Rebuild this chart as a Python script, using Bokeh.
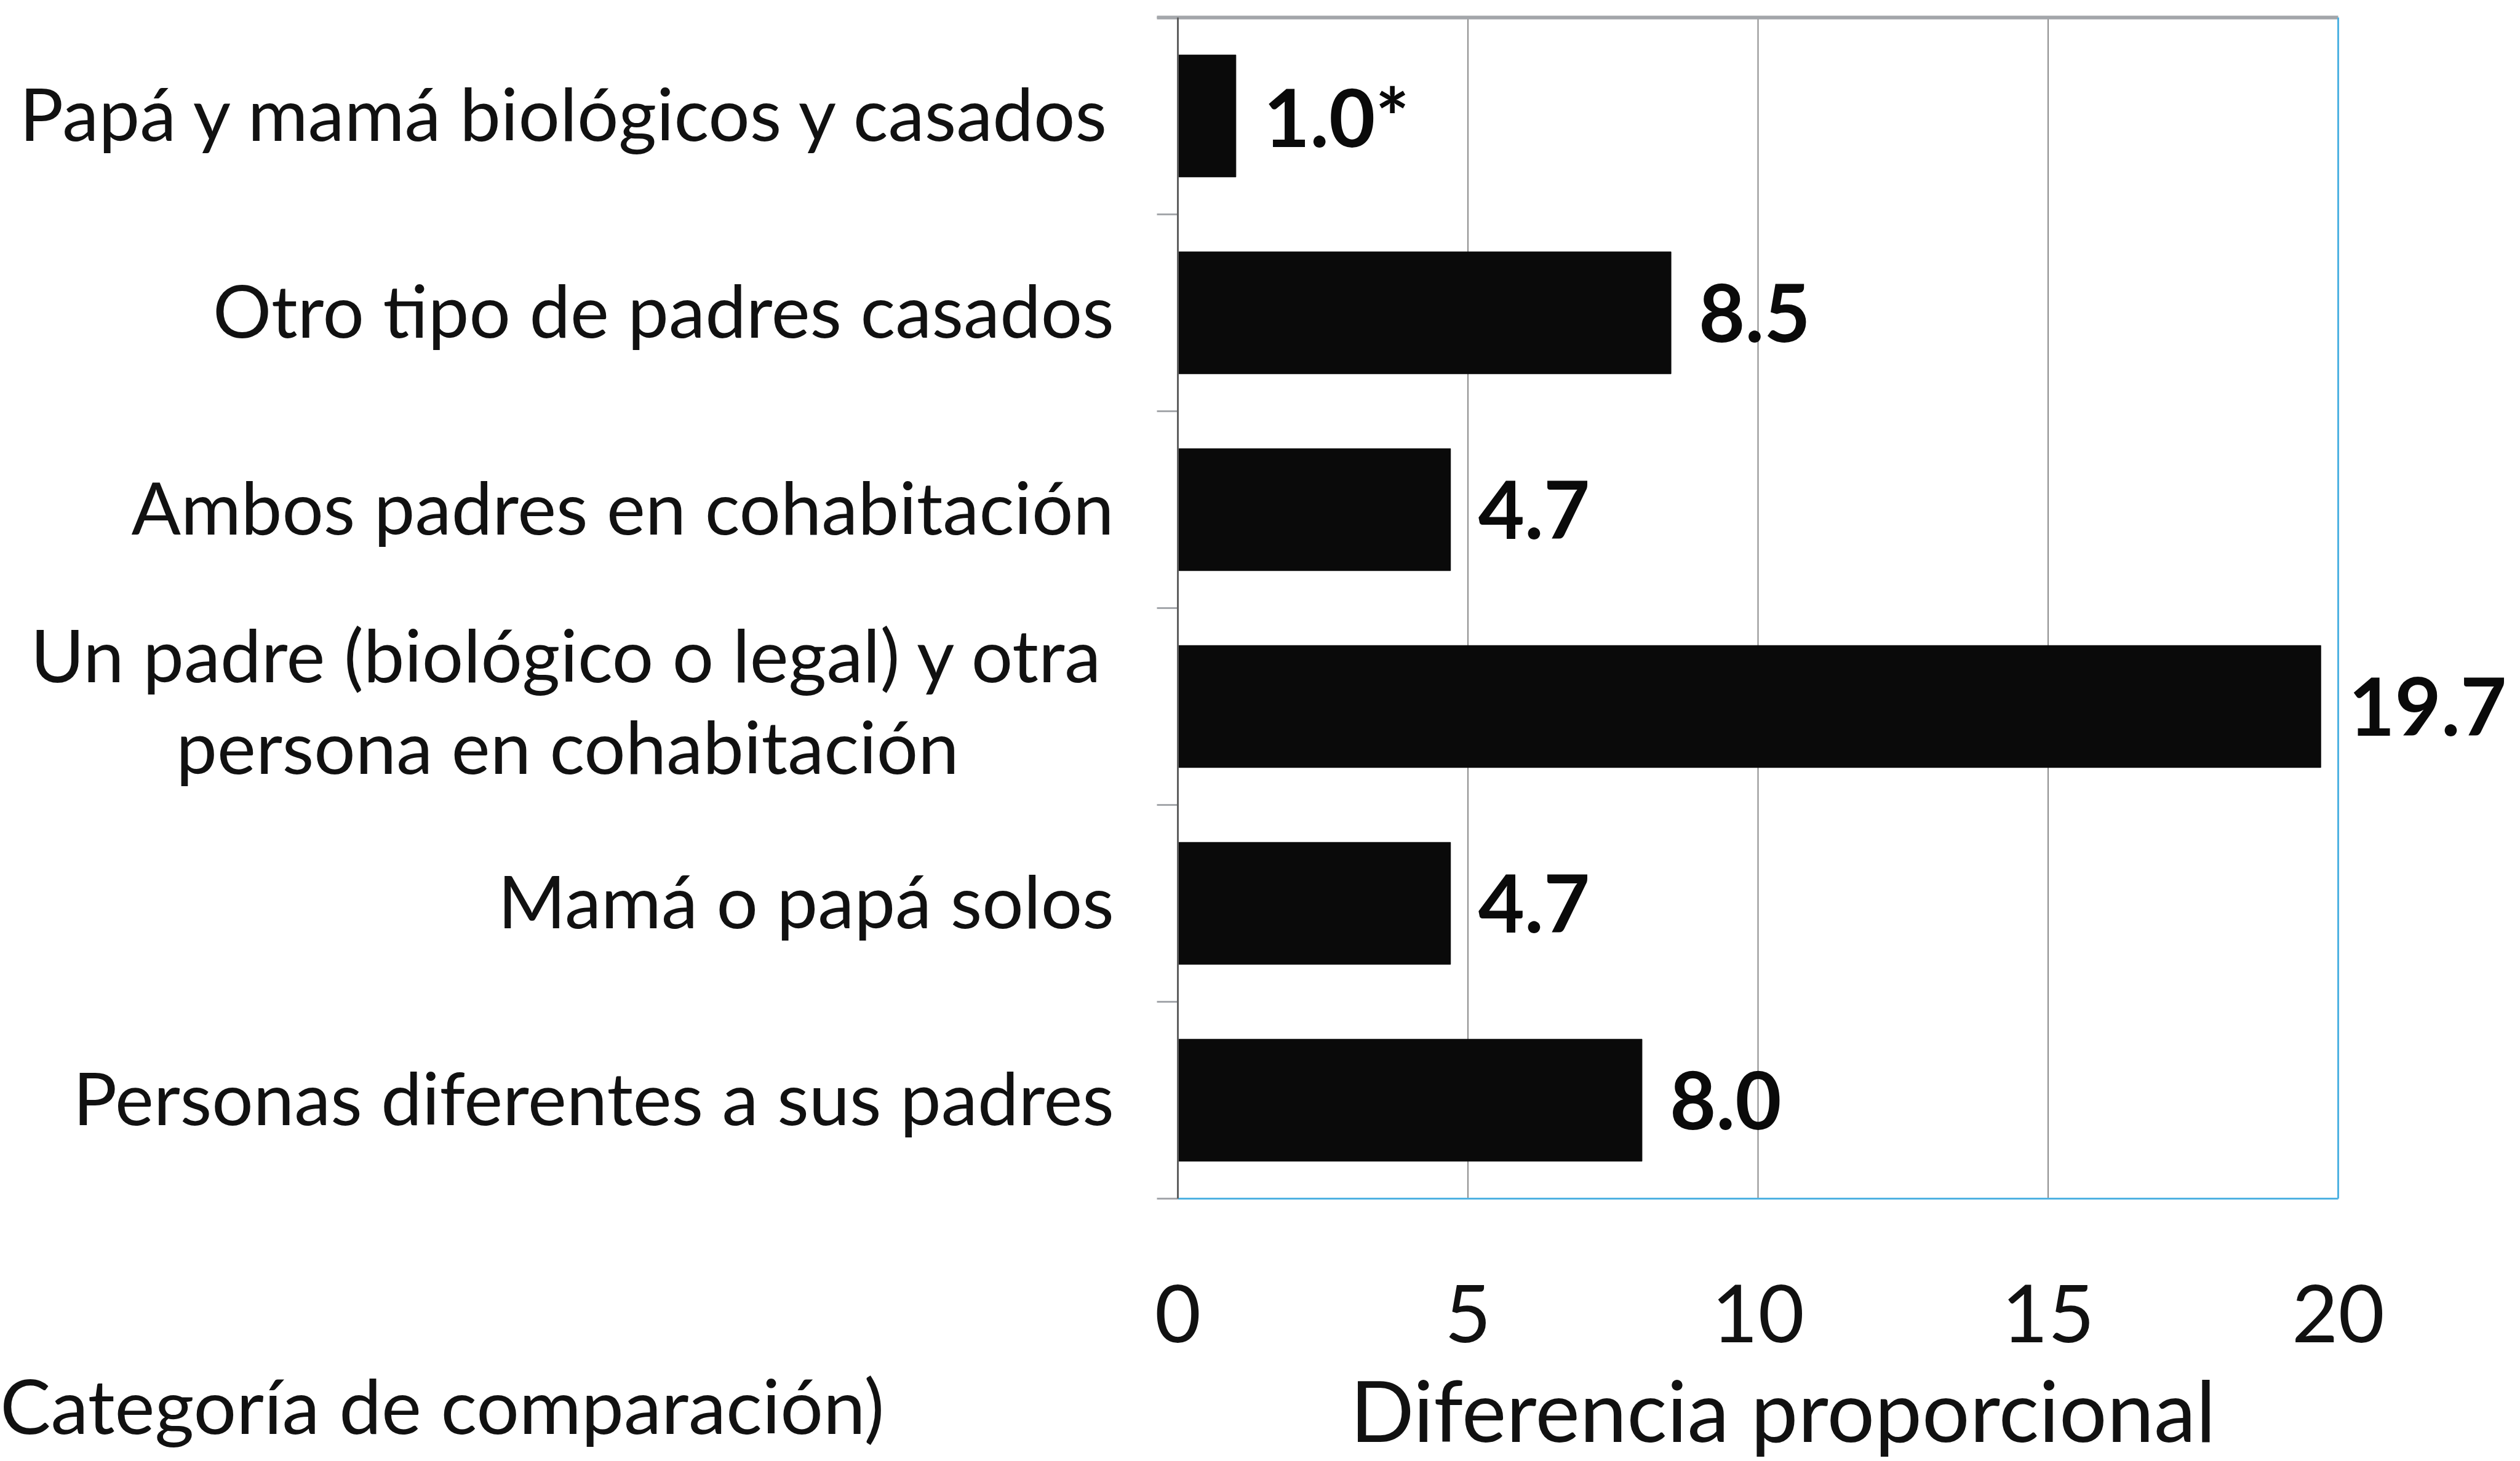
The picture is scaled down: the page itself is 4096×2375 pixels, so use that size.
from bokeh.plotting import figure
from bokeh.models import Range1d, ColumnDataSource
from bokeh.core.properties import value
from bokeh.embed import file_html
from bokeh.resources import INLINE

# ---- data ----
categories = [
    "Papá y mamá biológicos y casados",
    "Otro tipo de padres casados",
    "Ambos padres en cohabitación",
    "Un padre (biológico o legal) y otra\npersona en cohabitación",
    "Mamá o papá solos",
    "Personas diferentes a sus padres",
]
values = [1.0, 8.5, 4.7, 19.7, 4.7, 8.0]
value_labels = ["1.0*", "8.5", "4.7", "19.7", "4.7", "8.0"]
x_ticks = [0, 5, 10, 15, 20]
x_title = "Diferencia proporcional"
left_note = "Categoría de comparación)"

# ---- layout constants (the plotting frame covers the whole canvas) ----
FONT = "Lato"
W, H = 4096, 2375
X0, PX = 1914, 94.3        # pixel of x = 0, px per x unit
Y0, PY = 1948, 320.0       # pixel of y = 0, px per y unit
n = len(categories)
centers = [n - 0.5 - i for i in range(n)]
boundaries = list(range(n + 1))
TICK = 34 / PX
TEXT = "#111111"

p = figure(width=W, height=H, output_backend="svg", toolbar_location=None,
           x_range=Range1d(-X0 / PX, (W - X0) / PX),
           y_range=Range1d(-(H - Y0) / PY, Y0 / PY),
           x_axis_location=None, y_axis_location=None,
           min_border_left=0, min_border_right=0, min_border_top=0, min_border_bottom=0)
p.background_fill_color = "white"
p.border_fill_color = "white"
p.outline_line_color = None
p.grid.grid_line_color = None

# vertical grid lines inside the plot area
grid_x = x_ticks[1:-1]
p.segment(x0=grid_x, y0=[0] * len(grid_x), x1=grid_x, y1=[n] * len(grid_x),
          line_color="#8c8c8c", line_width=2)

# bars
p.hbar(y=centers, right=values, left=0, height=0.62,
       fill_color="#0a0a0a", line_color="#0a0a0a")

# plot-area borders (top grey, right and bottom blue), y-axis line, boundary ticks
p.segment(x0=[-TICK], y0=[n], x1=[x_ticks[-1]], y1=[n], line_color="#a3a6aa", line_width=6)
p.segment(x0=[x_ticks[-1]], y0=[0], x1=[x_ticks[-1]], y1=[n], line_color="#4fb2e2", line_width=3)
p.segment(x0=[0], y0=[0], x1=[x_ticks[-1]], y1=[0], line_color="#4fb2e2", line_width=3)
p.segment(x0=[-TICK] * len(boundaries), y0=boundaries, x1=[0] * len(boundaries), y1=boundaries,
          line_color="#a4a7ab", line_width=3)
p.segment(x0=[0], y0=[0], x1=[0], y1=[n], line_color="#5e5e5e", line_width=3)

# category labels to the left of the axis
lab_x, lab_y, lab_t, lab_al = [], [], [], []
for c, name in zip(centers, categories):
    lines = name.split("\n")
    if len(lines) == 1:
        lab_x.append(-1.10); lab_y.append(c + 0.016); lab_t.append(name); lab_al.append("right")
    else:
        lab_x += [-10.52, -10.52]
        lab_y += [c + 0.266, c - 0.197]
        lab_t += lines
        lab_al += ["center", "center"]
p.text(x="x", y="y", text="t", text_align="al",
       source=ColumnDataSource(dict(x=lab_x, y=lab_y, t=lab_t, al=lab_al)),
       text_baseline="middle", text_font=value(FONT), text_font_size="119px",
       text_color=TEXT)

# value labels
p.text(x=values, y=centers, text=value_labels, x_offset=45,
       text_align="left", text_baseline="middle", text_font=value(FONT),
       text_font_style="bold", text_font_size="130px", text_color="#0a0a0a")

# x tick labels
p.text(x=x_ticks, y=[-0.5825] * len(x_ticks), text=[str(t) for t in x_ticks],
       text_align="center", text_baseline="middle", text_font=value(FONT),
       text_font_size="130px", text_color=TEXT)

# axis title
p.text(x=[10.43], y=[-1.070], text=[x_title], text_align="center", text_baseline="middle",
       text_font=value(FONT), text_font_size="137px", text_color=TEXT)

# comparison note at the lower left
p.text(x=[-5.06], y=[-1.048], text=[left_note], text_align="right", text_baseline="middle",
       text_font=value(FONT), text_font_size="123px", text_color=TEXT)

open("out.html", "w").write(file_html(p, INLINE))
